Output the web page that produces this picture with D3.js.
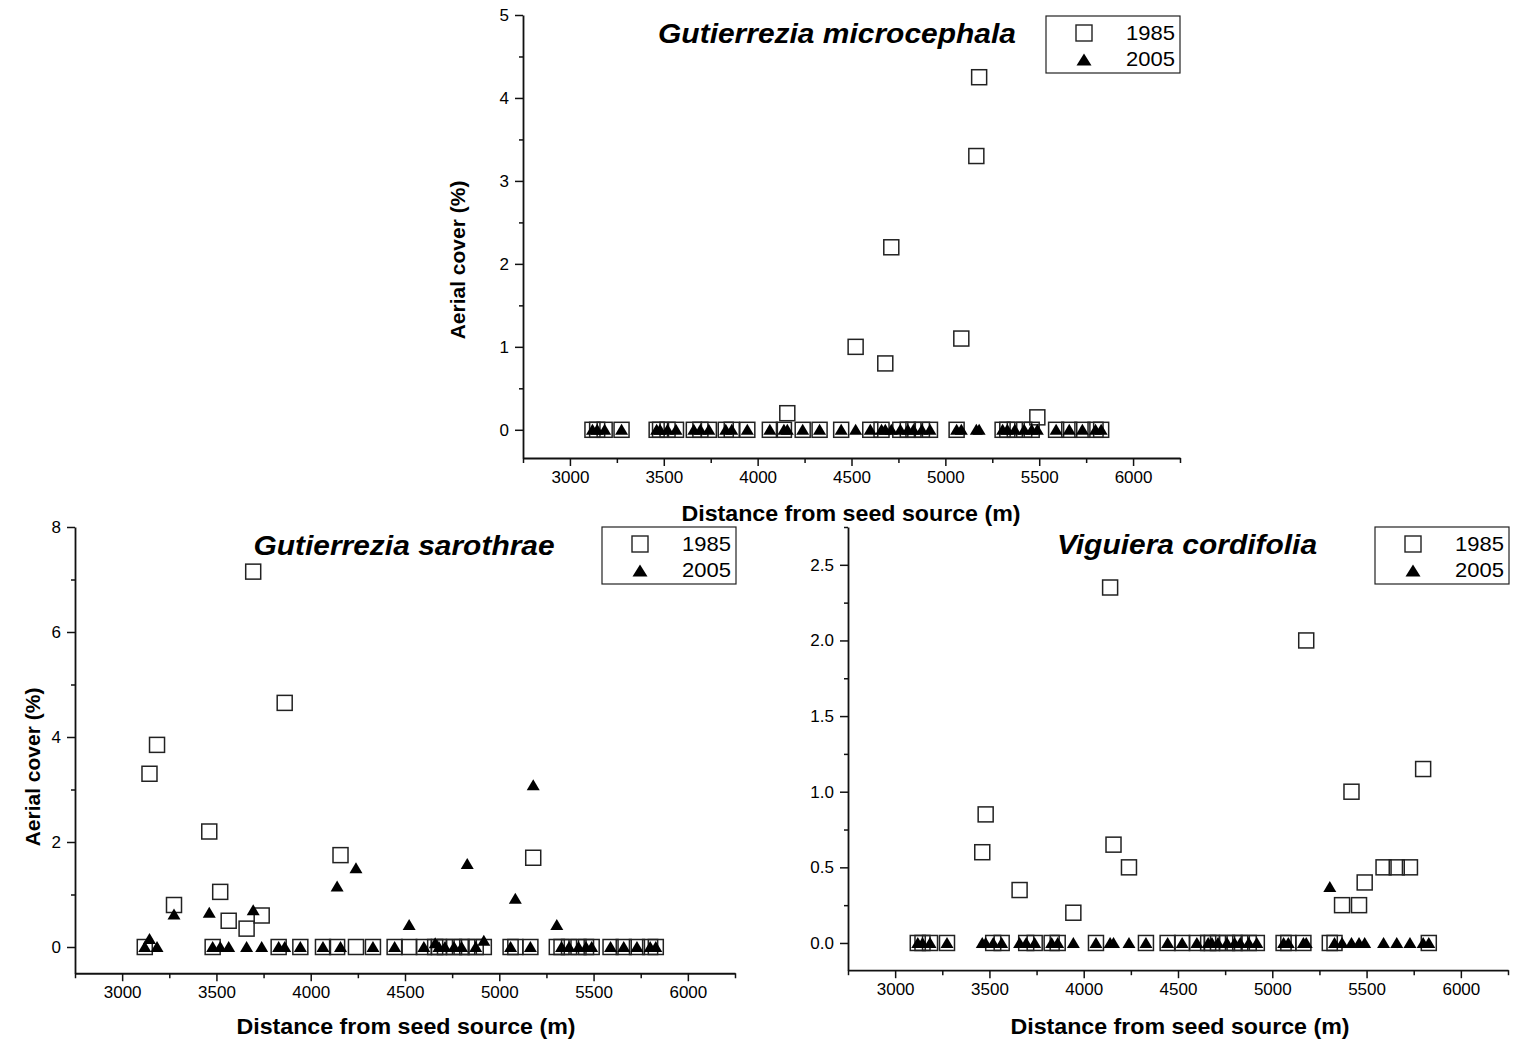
<!DOCTYPE html>
<html>
<head>
<meta charset="utf-8">
<script src="https://cdn.jsdelivr.net/npm/d3@7"></script>
<style>
  body { margin: 0; background: #fff; }
  svg { display: block; }
  text { font-family: "Liberation Sans", Arial, Helvetica, sans-serif; fill: #000; }
</style>
</head>
<body>
<svg id="fig" width="1515" height="1049"></svg>
<script>
// Sampling sites: distance from the seed source (m)
const distance = [3120,3145,3185,3275,3462,3480,3520,3565,3660,3695,
                  3740,3830,3862,3945,4065,4140,4158,4240,4330,4445,
                  4522,4600,4660,4680,4712,4760,4800,4830,4875,4918,
                  5060,5085,5165,5180,5305,5330,5370,5420,5460,5490,
                  5590,5660,5730,5800,5830];

// Aerial cover (%) per site, Gutierrezia microcephala
const microcephala1985 = [0,0,0,0,0,0,0,0,0,0,
                          0,0,0,0,0,0,0.2,0,0,0,
                          1.0,0,0,0.8,2.2,0,0,0,0,0,
                          0,1.1,3.3,4.25,0,0,0,0,0,0.15,
                          0,0,0,0,0];
const microcephala2005 = [0,0,0,0,0,0,0,0,0,0,
                          0,0,0,0,0,0,0,0,0,0,
                          0,0,0,0,0,0,0,0,0,0,
                          0,0,0,0,0,0,0,0,0,0,
                          0,0,0,0,0];

// Aerial cover (%) per site, Gutierrezia sarothrae
const sarothrae1985 = [0,3.3,3.85,0.8,2.2,0,1.05,0.5,0.35,7.15,
                       0.6,0,4.65,0,0,0,1.75,0,0,0,
                       0,0,0,0,0,0,0,0,0,0,
                       0,0,0,1.7,0,0,0,0,0,0,
                       0,0,0,0,0];
const sarothrae2005 = [0,0.15,0,0.62,0.65,0,0,0,0,0.7,
                       0,0,0,0,0,1.15,0,1.5,0,0,
                       0.42,0,0.07,0,0,0,0,1.58,0,0.12,
                       0,0.92,0,3.08,0.42,0,0,0,0,0,
                       0,0,0,0,0];

// Aerial cover (%) per site, Viguiera cordifolia
const cordifolia1985 = [0,0,0,0,0.6,0.85,0,0,0.35,0,
                        0,0,0,0.2,0,2.35,0.65,0.5,0,0,
                        0,0,0,0,0,0,0,0,0,0,
                        0,0,0,2.0,0,0,0.25,1.0,0.25,0.4,
                        0.5,0.5,0.5,1.15,0];
const cordifolia2005 = [0,0,0,0,0,0,0,0,0,0,
                        0,0,0,0,0,0,0,0,0,0,
                        0,0,0,0,0,0,0,0,0,0,
                        0,0,0,0,0.37,0,0,0,0,0,
                        0,0,0,0,0];

// Axis ticks and legend labels
const xTicks = [3000,3500,4000,4500,5000,5500,6000];
const xMinor = [2750,3250,3750,4250,4750,5250,5750,6250];
const xDomain = [2750,6250];
const yTicksMicro = [0,1,2,3,4,5];
const yTicksSaro = [0,2,4,6,8];
const yTicksCordi = [0,0.5,1,1.5,2,2.5];
const legendYears = ["1985","2005"];
const xTitle = "Distance from seed source (m)";
const yTitle = "Aerial cover (%)";

const panels = [
  { title: "Gutierrezia microcephala", v85: microcephala1985, v05: microcephala2005,
    x0: 523, x1: 1180, yTop: 15, yBottom: 458, yDomain: [-0.34, 5],
    yTicks: yTicksMicro, yMinorStep: 0.5, yFmt: d3.format("d"),
    titleAt: [837, 43], legendAt: [1046, 16], yLabelAt: [465, 260], xLabelAt: [851, 521] },
  { title: "Gutierrezia sarothrae", v85: sarothrae1985, v05: sarothrae2005,
    x0: 75, x1: 735, yTop: 527, yBottom: 973.25, yDomain: [-0.5, 8],
    yTicks: yTicksSaro, yMinorStep: 1, yFmt: d3.format("d"),
    titleAt: [404, 555], legendAt: [602, 527], yLabelAt: [40, 767], xLabelAt: [406, 1034] },
  { title: "Viguiera cordifolia", v85: cordifolia1985, v05: cordifolia2005,
    x0: 848, x1: 1508, yTop: 527, yBottom: 970.2, yDomain: [-0.18, 2.75],
    yTicks: yTicksCordi, yMinorStep: 0.25, yFmt: d3.format(".1f"),
    titleAt: [1187, 554], legendAt: [1375, 527], yLabelAt: null, xLabelAt: [1180, 1034] }
];

const svg = d3.select("#fig");
const INK = "#111";
const FONT = '"Liberation Sans", Arial, sans-serif';

function trianglePath(cx, cy, w, h) {
  const p = d3.path();
  p.moveTo(cx, cy - h * 0.55);
  p.lineTo(cx + w / 2, cy + h * 0.45);
  p.lineTo(cx - w / 2, cy + h * 0.45);
  p.closePath();
  return p.toString();
}

panels.forEach(P => {
  const g = svg.append("g");
  const x = d3.scaleLinear().domain(xDomain).range([P.x0, P.x1]);
  const y = d3.scaleLinear().domain(P.yDomain).range([P.yBottom, P.yTop]);

  // minor y ticks
  const yMinor = d3.range(0, P.yDomain[1] + 1e-9, P.yMinorStep)
    .filter(v => !P.yTicks.some(t => Math.abs(t - v) < 1e-9));
  g.append("g").attr("transform", `translate(${P.x0},0)`)
    .call(d3.axisLeft(y).tickValues(yMinor).tickSize(4).tickFormat("").tickSizeOuter(0))
    .call(a => a.select(".domain").remove())
    .call(a => a.selectAll("line").attr("stroke", INK).attr("stroke-width", 1.5));

  // major y axis
  g.append("g").attr("transform", `translate(${P.x0},0)`)
    .call(d3.axisLeft(y).tickValues(P.yTicks).tickSize(8).tickPadding(6)
      .tickFormat(P.yFmt).tickSizeOuter(0))
    .call(a => a.select(".domain").attr("stroke", INK).attr("stroke-width", 1.8))
    .call(a => a.selectAll("line").attr("stroke", INK).attr("stroke-width", 1.5))
    .call(a => a.selectAll("text").attr("font-size", 17).attr("fill", "#000")
      .attr("font-family", FONT));

  // minor x ticks
  g.append("g").attr("transform", `translate(0,${P.yBottom})`)
    .call(d3.axisBottom(x).tickValues(xMinor).tickSize(5).tickFormat("").tickSizeOuter(0))
    .call(a => a.select(".domain").remove())
    .call(a => a.selectAll("line").attr("stroke", INK).attr("stroke-width", 1.5));

  // major x axis
  g.append("g").attr("transform", `translate(0,${P.yBottom})`)
    .call(d3.axisBottom(x).tickValues(xTicks).tickSize(8).tickPadding(5)
      .tickFormat(d3.format("d")).tickSizeOuter(0))
    .call(a => a.select(".domain").attr("stroke", INK).attr("stroke-width", 1.8))
    .call(a => a.selectAll("line").attr("stroke", INK).attr("stroke-width", 1.5))
    .call(a => a.selectAll("text").attr("font-size", 17).attr("fill", "#000")
      .attr("font-family", FONT));

  // 1985: open squares
  const pts85 = distance.map((d, i) => [d, P.v85[i]]);
  g.append("g").selectAll("rect").data(pts85).join("rect")
    .attr("x", d => x(d[0]) - 7.5).attr("y", d => y(d[1]) - 7.5)
    .attr("width", 15).attr("height", 15)
    .attr("fill", "none").attr("stroke", "#222").attr("stroke-width", 1.5);

  // 2005: filled triangles
  const pts05 = distance.map((d, i) => [d, P.v05[i]]);
  g.append("g").selectAll("path").data(pts05).join("path")
    .attr("d", d => trianglePath(x(d[0]), y(d[1]), 13, 11))
    .attr("fill", "#000");

  // species title
  g.append("text")
    .attr("transform", `translate(${P.titleAt[0]},${P.titleAt[1]}) scale(1.07,1)`)
    .attr("text-anchor", "middle").attr("font-size", 28)
    .attr("font-weight", "bold").attr("font-style", "italic")
    .text(P.title);

  // axis titles
  g.append("text")
    .attr("transform", `translate(${P.xLabelAt[0]},${P.xLabelAt[1]}) scale(1.08,1)`)
    .attr("text-anchor", "middle").attr("font-size", 21.5).attr("font-weight", "bold")
    .text(xTitle);
  if (P.yLabelAt) {
    g.append("text")
      .attr("transform", `translate(${P.yLabelAt[0]},${P.yLabelAt[1]}) rotate(-90)`)
      .attr("text-anchor", "middle").attr("font-size", 21).attr("font-weight", "bold")
      .text(yTitle);
  }

  // legend
  const [lx, ly] = P.legendAt;
  const lg = g.append("g");
  lg.append("rect").attr("x", lx).attr("y", ly).attr("width", 134).attr("height", 57)
    .attr("fill", "#fff").attr("stroke", "#222").attr("stroke-width", 1.2);
  lg.append("rect").attr("x", lx + 38 - 8).attr("y", ly + 17 - 8)
    .attr("width", 16).attr("height", 16)
    .attr("fill", "none").attr("stroke", "#222").attr("stroke-width", 1.4);
  lg.append("path").attr("d", trianglePath(lx + 38, ly + 44, 15, 12)).attr("fill", "#000");
  legendYears.forEach((yr, i) => {
    lg.append("text")
      .attr("transform", `translate(${lx + 129},${ly + 24 + i * 26}) scale(1.1,1)`)
      .attr("text-anchor", "end").attr("font-size", 20)
      .text(yr);
  });
});
</script>
</body>
</html>
